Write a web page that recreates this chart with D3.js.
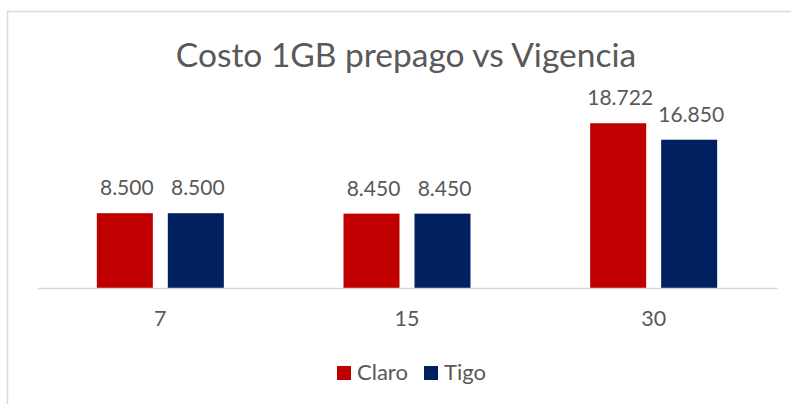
<!DOCTYPE html>
<html><head><meta charset="utf-8">
<script src="https://cdn.jsdelivr.net/npm/d3@7"></script>
<style>body{margin:0;background:#fff}svg{display:block}text{font-family:Lato,"Open Sans",sans-serif;fill:#595959}</style>
</head><body>
<svg id="c" width="791" height="404"></svg>
<script>
const categories = ["7", "15", "30"];
const seriesNames = ["Claro", "Tigo"];
const claroValues = [8500, 8450, 18722];
const tigoValues = [8500, 8450, 16850];
const colors = {Claro: "#C00000", Tigo: "#002060"};
const title = "Costo 1GB prepago vs Vigencia";

const values = {Claro: claroValues, Tigo: tigoValues};
const svg = d3.select("#c");
const loc = d3.formatLocale({decimal: ",", thousands: ".", grouping: [3], currency: ["$", ""]});
const fmt = loc.format(",d");

// chart border
svg.append("rect").attr("x", 7.5).attr("y", 11.5).attr("width", 820).attr("height", 420)
  .attr("fill", "#fff").attr("stroke", "#d9d9d9").attr("stroke-width", 1.5);

const x0 = d3.scaleBand().domain(categories).range([37, 777]).padding(0);
const x1 = d3.scaleBand().domain(seriesNames).range([0, x0.bandwidth()]).paddingInner(0.211).paddingOuter(0.843);
const y = d3.scaleLinear().domain([0, 20000]).range([288, 112]);

// title
svg.append("text").attr("x", 406).attr("y", 67).attr("text-anchor", "middle")
  .style("font-size", "33.5px").text(title);

const groups = svg.append("g").selectAll("g").data(categories).join("g")
  .attr("transform", d => `translate(${x0(d)},0)`);

const bars = groups.selectAll("g").data((d, i) => seriesNames.map(s => ({s, v: values[s][i]}))).join("g");
bars.append("rect")
  .attr("x", d => x1(d.s)).attr("width", x1.bandwidth())
  .attr("y", d => y(d.v)).attr("height", d => y(0) - y(d.v))
  .attr("fill", d => colors[d.s]);
bars.append("text")
  .attr("x", d => x1(d.s) + x1.bandwidth() / 2 + 2)
  .attr("y", d => y(d.v) - 18)
  .attr("text-anchor", "middle").style("font-size", "21px")
  .text(d => fmt(d.v));

// axis
const ax = svg.append("g").attr("transform", `translate(0,${y(0)})`)
  .call(d3.axisBottom(x0).tickSize(0).tickPadding(23));
ax.select(".domain").attr("stroke", "#d9d9d9").attr("stroke-width", 1.5);
ax.selectAll("text").style("font-size", "21.5px").style("font-family", "Lato,'Open Sans',sans-serif").attr("fill", "#595959");

// legend
const legX = [337, 424];
const leg = svg.append("g").selectAll("g").data(seriesNames).join("g")
  .attr("transform", (d, i) => `translate(${legX[i]},366)`);
leg.append("rect").attr("width", 14).attr("height", 14).attr("fill", d => colors[d]);
leg.append("text").attr("x", 20).attr("y", 14).style("font-size", "22px").text(d => d);
</script>
</body></html>
